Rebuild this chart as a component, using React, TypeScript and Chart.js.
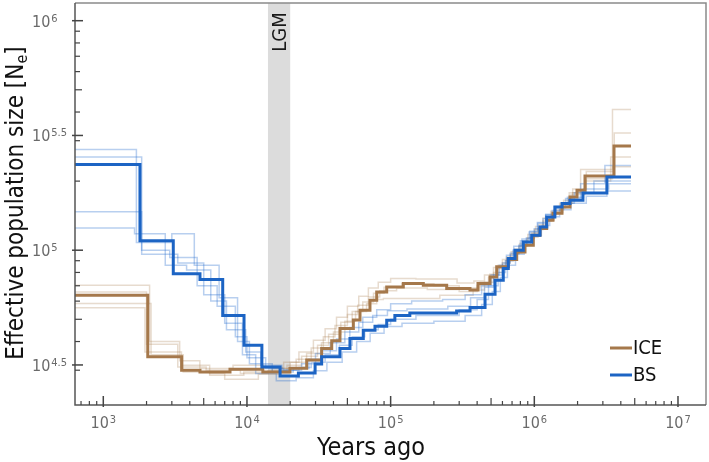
import React, { useEffect, useRef } from 'react';
import { Chart, registerables } from 'chart.js';

Chart.register(...registerables);

// ---- axis limits / annotation ----
const X_MIN = 635.5;
const X_MAX = 1.5667e7;
const Y_MIN = 21160;
const Y_MAX = 1.19436e6;
const LGM_START = 14000;
const LGM_END = 20000;

const xMajorTicks = [1e3, 1e4, 1e5, 1e6, 1e7];
const xTickExponents = ['3', '4', '5', '6', '7'];
const yMajorTicks = [31622.8, 1e5, 316227.8, 1e6];
const yTickExponents = ['4.5', '5', '5.5', '6'];

const X_TITLE = 'Years ago';
const Y_TITLE = 'Effective population size [N';
const Y_TITLE_SUB = 'e';
const Y_TITLE_END = ']';
const LGM_LABEL = 'LGM';
const SERIES_NAMES = ['ICE', 'BS'];

// ---- main curves: interval breakpoints (years) and Ne per interval ----
const bsTimes = [500, 1800, 3070, 4710, 6780, 9540, 12700, 17000, 22800, 29800, 33100, 44400, 52100, 64500, 77800, 93900, 107000, 136000, 288000, 357000, 454000, 533000, 608000, 659000, 734000, 838000, 959000, 1095000, 1220000, 1390000, 1560000, 1770000, 2180000, 3200000, 4710000];
const bsNe = [236000, 110000, 79000, 74500, 52000, 38500, 31000, 28300, 29200, 31900, 34300, 37300, 41200, 44800, 46600, 49500, 52000, 53300, 54400, 56300, 64300, 74000, 83200, 92000, 100000, 108700, 116200, 126300, 139700, 154400, 159800, 165100, 177700, 208600];

const iceTimes = [500, 2040, 3510, 4710, 7620, 12900, 19900, 26050, 33100, 38900, 44400, 55000, 61200, 71800, 80000, 93900, 122500, 168800, 245600, 356700, 405500, 491600, 547300, 659200, 754000, 861300, 984000, 1095000, 1220000, 1349000, 1558000, 1772000, 1982000, 2253000, 3586000, 4710000];
const iceNe = [63700, 34300, 30000, 29500, 30300, 29500, 30600, 33200, 37300, 40300, 45600, 49600, 54800, 60600, 65800, 69200, 71600, 70400, 68100, 67000, 71600, 76500, 84600, 91100, 98300, 105100, 116200, 124300, 135100, 144900, 154400, 170700, 182600, 210700, 284800];

// ---- BS replicates ----
const bsRep1Times = [500, 1700, 3000, 4300, 6400, 8600, 10400, 15000, 21000, 27000, 33000, 42000, 52000, 64000, 80000, 100000, 140000, 230000, 330000, 430000, 500000, 570000, 640000, 720000, 820000, 930000, 1050000, 1200000, 1400000, 1650000, 2100000, 3100000, 4710000];
const bsRep1Ne = [275000, 108000, 118000, 86000, 62000, 40000, 32000, 29500, 30500, 33500, 36500, 41000, 46000, 51000, 55000, 58500, 60000, 61000, 64000, 70000, 78000, 86000, 95000, 104000, 112000, 121000, 132000, 143000, 153000, 168000, 195000, 234000];

const bsRep2Times = [500, 1850, 3300, 5000, 7000, 9300, 11500, 16000, 22000, 29000, 36000, 46000, 58000, 72000, 90000, 120000, 200000, 330000, 430000, 510000, 580000, 650000, 740000, 850000, 980000, 1120000, 1280000, 1500000, 1800000, 2300000, 3200000, 4710000];
const bsRep2Ne = [255000, 96000, 88000, 64000, 48000, 35000, 29000, 27000, 27800, 29800, 32500, 36000, 40000, 43500, 46500, 48000, 49000, 52000, 58000, 66000, 76000, 86000, 96000, 106000, 116000, 128000, 140000, 150000, 160000, 172000, 181000];

const bsRep3Times = [500, 1850, 2900, 4500, 6200, 8300, 10000, 13500, 18000, 24000, 30000, 38000, 48000, 60000, 75000, 95000, 130000, 250000, 360000, 450000, 520000, 600000, 680000, 780000, 880000, 1000000, 1150000, 1330000, 1550000, 1900000, 2600000, 4710000];
const bsRep3Ne = [147000, 100000, 93000, 70000, 57000, 42000, 34000, 30500, 30000, 32000, 35500, 39500, 44000, 48500, 52000, 54500, 55500, 57000, 62000, 69000, 78000, 88000, 97000, 105000, 113000, 124000, 137000, 149000, 160000, 178000, 200000];

const bsRep4Times = [500, 1650, 2700, 3800, 5600, 7200, 9800, 12500, 17500, 23000, 28000, 35000, 44000, 54000, 66000, 82000, 100000, 150000, 300000, 400000, 480000, 560000, 630000, 710000, 800000, 920000, 1060000, 1200000, 1420000, 1700000, 2200000, 3300000, 4710000];
const bsRep4Ne = [125000, 118000, 86000, 82000, 60000, 45000, 36000, 31500, 30000, 30800, 32500, 35000, 38500, 42000, 45000, 47500, 50000, 52000, 55000, 61000, 70000, 80000, 90000, 100000, 110000, 120000, 131000, 143000, 155000, 170000, 185000, 195000];

// ---- ICE replicates ----
const iceRep1Times = [500, 2100, 3400, 4700, 8000, 13000, 18000, 23000, 29000, 35000, 42000, 50000, 60000, 70000, 82000, 100000, 150000, 290000, 380000, 450000, 520000, 600000, 690000, 790000, 900000, 1020000, 1150000, 1300000, 1500000, 1750000, 2100000, 3500000, 4710000];
const iceRep1Ne = [70400, 40000, 33000, 30500, 31500, 30800, 32500, 36000, 40500, 45500, 51000, 57000, 63000, 68500, 72500, 75300, 75000, 72000, 73500, 78000, 84000, 91000, 98500, 107000, 117000, 127000, 138000, 148000, 160000, 178000, 225000, 410000];

const iceRep2Times = [500, 2000, 3300, 5200, 9000, 14000, 19000, 24000, 31000, 37000, 45000, 54000, 64000, 76000, 90000, 120000, 200000, 300000, 420000, 490000, 560000, 640000, 730000, 840000, 960000, 1080000, 1220000, 1380000, 1600000, 1850000, 2300000, 3600000, 4710000];
const iceRep2Ne = [65800, 38900, 31000, 30000, 29000, 29800, 31500, 34500, 38500, 43000, 48500, 54000, 59500, 65000, 69000, 71500, 70000, 68500, 72500, 78500, 86000, 93500, 101000, 109000, 119000, 129000, 140000, 150000, 165000, 185000, 220000, 324000];

const iceRep3Times = [500, 2150, 3600, 5500, 9500, 15000, 20000, 26000, 33000, 40000, 48000, 57000, 68000, 80000, 89000, 220000, 375000, 450000, 520000, 600000, 680000, 780000, 890000, 1000000, 1150000, 1320000, 1520000, 1800000, 2250000, 3400000, 4710000];
const iceRep3Ne = [58600, 35000, 29500, 28500, 29500, 30500, 32500, 35500, 39500, 44000, 49000, 54000, 58500, 61000, 61600, 63700, 67000, 72500, 80000, 88000, 96000, 104000, 113000, 123000, 134000, 145000, 158000, 175000, 200000, 255000];

const iceRep4Times = [500, 1950, 3500, 5500, 7000, 12000, 17000, 22000, 28000, 34000, 41000, 50000, 59000, 70000, 84000, 110000, 180000, 300000, 400000, 480000, 550000, 630000, 720000, 820000, 940000, 1060000, 1200000, 1370000, 1580000, 1850000, 2300000, 3500000, 4710000];
const iceRep4Ne = [56200, 36000, 31500, 29000, 27400, 28800, 30500, 33500, 37500, 42000, 47000, 52500, 57500, 62500, 66500, 68500, 67500, 66000, 70000, 76000, 83000, 90000, 97000, 105000, 114000, 124000, 135000, 146000, 160000, 178000, 205000, 231000];

// ---- colours ----
const ICE_COLOR = '#a5784b';
const BS_COLOR = '#1c64c4';
const ICE_LIGHT = 'rgba(170,125,80,0.28)';
const BS_LIGHT = 'rgba(40,110,205,0.33)';

const FONT = '"DejaVu Sans Condensed", "DejaVu Sans", sans-serif';

function steps(times: number[], ne: number[]) {
  const pts = ne.map((v, i) => ({ x: times[i], y: v }));
  pts.push({ x: times[times.length - 1], y: ne[ne.length - 1] });
  return pts;
}

function ds(times: number[], ne: number[], color: string, width: number, order: number) {
  return {
    data: steps(times, ne),
    borderColor: color,
    backgroundColor: color,
    borderWidth: width,
    stepped: 'before' as const,
    pointRadius: 0,
    fill: false,
    order,
  };
}

const decorations = {
  id: 'decorations',
  beforeDatasetsDraw(chart: any) {
    const { ctx, chartArea } = chart;
    const xs = chart.scales.x;
    const x0 = xs.getPixelForValue(LGM_START);
    const x1 = xs.getPixelForValue(LGM_END);
    ctx.save();
    ctx.fillStyle = '#dcdcdc';
    ctx.fillRect(x0, chartArea.top, x1 - x0, chartArea.bottom - chartArea.top);
    ctx.restore();
  },
  afterDatasetsDraw(chart: any) {
    const { ctx, chartArea } = chart;
    const xs = chart.scales.x;
    const ys = chart.scales.y;
    const { left, right, top, bottom } = chartArea;
    ctx.save();

    // LGM label
    const xl = (xs.getPixelForValue(LGM_START) + xs.getPixelForValue(LGM_END)) / 2;
    ctx.save();
    ctx.translate(xl + 7, 32);
    ctx.rotate(-Math.PI / 2);
    ctx.fillStyle = '#1a1a1a';
    ctx.font = `20px ${FONT}`;
    ctx.textAlign = 'center';
    ctx.textBaseline = 'alphabetic';
    ctx.fillText(LGM_LABEL, 0, 0);
    ctx.restore();

    // frame
    ctx.strokeStyle = '#8a8a8a';
    ctx.lineWidth = 1.5;
    ctx.beginPath();
    ctx.moveTo(left, top);
    ctx.lineTo(right, top);
    ctx.lineTo(right, bottom);
    ctx.stroke();
    ctx.strokeStyle = '#555';
    ctx.lineWidth = 1.5;
    ctx.beginPath();
    ctx.moveTo(left, top);
    ctx.lineTo(left, bottom);
    ctx.lineTo(right, bottom);
    ctx.stroke();

    // ticks
    ctx.lineWidth = 1.2;
    ctx.strokeStyle = '#444';
    for (let d = 2; d <= 7; d++) {
      for (let m = 2; m <= 9; m++) {
        const v = m * Math.pow(10, d);
        if (v <= X_MIN || v >= X_MAX) continue;
        const px = xs.getPixelForValue(v);
        const len = m === 5 ? 7 : 4;
        ctx.beginPath();
        ctx.moveTo(px, bottom);
        ctx.lineTo(px, bottom - len);
        ctx.stroke();
      }
    }
    for (let d = 4; d <= 6; d++) {
      for (let m = 2; m <= 9; m++) {
        const v = m * Math.pow(10, d);
        if (v <= Y_MIN || v >= Y_MAX) continue;
        const py = ys.getPixelForValue(v);
        const len = m === 5 ? 7 : 5;
        ctx.beginPath();
        ctx.moveTo(left, py);
        ctx.lineTo(left + len, py);
        ctx.stroke();
      }
    }
    ctx.lineWidth = 1.5;
    xMajorTicks.forEach((v) => {
      const px = xs.getPixelForValue(v);
      ctx.beginPath();
      ctx.moveTo(px, bottom + 2);
      ctx.lineTo(px, bottom - 9);
      ctx.stroke();
    });
    yMajorTicks.forEach((v) => {
      const py = ys.getPixelForValue(v);
      ctx.beginPath();
      ctx.moveTo(left - 3, py);
      ctx.lineTo(left + 8, py);
      ctx.stroke();
    });

    // tick labels
    ctx.fillStyle = '#6a6a6a';
    ctx.textAlign = 'left';
    ctx.textBaseline = 'alphabetic';
    xMajorTicks.forEach((v, i) => {
      const px = xs.getPixelForValue(v);
      ctx.font = `16px ${FONT}`;
      const w1 = ctx.measureText('10').width;
      ctx.font = `11px ${FONT}`;
      const w2 = ctx.measureText(xTickExponents[i]).width;
      const start = px - (w1 + w2 + 1) / 2;
      ctx.font = `16px ${FONT}`;
      ctx.fillText('10', start, 428);
      ctx.font = `11px ${FONT}`;
      ctx.fillText(xTickExponents[i], start + w1 + 1, 423);
    });
    yMajorTicks.forEach((v, i) => {
      const py = ys.getPixelForValue(v);
      ctx.font = `16px ${FONT}`;
      const w1 = ctx.measureText('10').width;
      ctx.fillText('10', 32, py + 6);
      ctx.font = `11px ${FONT}`;
      ctx.fillText(yTickExponents[i], 32 + w1 + 1, py + 1);
    });

    // axis titles
    ctx.fillStyle = '#111';
    ctx.font = `25px ${FONT}`;
    ctx.textAlign = 'center';
    ctx.fillText(X_TITLE, 371, 455);

    ctx.save();
    ctx.font = `24px ${FONT}`;
    const wa = ctx.measureText(Y_TITLE).width;
    const wc = ctx.measureText(Y_TITLE_END).width;
    ctx.font = `16px ${FONT}`;
    const wb = ctx.measureText(Y_TITLE_SUB).width;
    const total = wa + wb + wc;
    ctx.translate(23, 203);
    ctx.rotate(-Math.PI / 2);
    ctx.textAlign = 'left';
    ctx.font = `24px ${FONT}`;
    ctx.fillText(Y_TITLE, -total / 2, 0);
    ctx.font = `16px ${FONT}`;
    ctx.fillText(Y_TITLE_SUB, -total / 2 + wa, 4);
    ctx.font = `24px ${FONT}`;
    ctx.fillText(Y_TITLE_END, -total / 2 + wa + wb, 0);
    ctx.restore();

    // legend
    const legendRows = [
      { name: SERIES_NAMES[0], color: ICE_COLOR, y: 348 },
      { name: SERIES_NAMES[1], color: BS_COLOR, y: 375 },
    ];
    ctx.textAlign = 'left';
    ctx.textBaseline = 'middle';
    legendRows.forEach((r) => {
      ctx.strokeStyle = r.color;
      ctx.lineWidth = 3;
      ctx.beginPath();
      ctx.moveTo(610, r.y);
      ctx.lineTo(632, r.y);
      ctx.stroke();
      ctx.fillStyle = '#111';
      ctx.font = `20px ${FONT}`;
      ctx.fillText(r.name, 633, r.y + 1);
    });

    ctx.restore();
  },
};

export default function App() {
  const ref = useRef<HTMLCanvasElement | null>(null);
  useEffect(() => {
    if (!ref.current) return;
    const chart = new Chart(ref.current, {
      type: 'line',
      data: {
        datasets: [
          ds(bsTimes, bsNe, BS_COLOR, 3, 0),
          ds(iceTimes, iceNe, ICE_COLOR, 3, 1),
          ds(bsRep1Times, bsRep1Ne, BS_LIGHT, 1.5, 2),
          ds(bsRep2Times, bsRep2Ne, BS_LIGHT, 1.5, 2),
          ds(bsRep3Times, bsRep3Ne, BS_LIGHT, 1.5, 2),
          ds(bsRep4Times, bsRep4Ne, BS_LIGHT, 1.5, 2),
          ds(iceRep1Times, iceRep1Ne, ICE_LIGHT, 1.5, 3),
          ds(iceRep2Times, iceRep2Ne, ICE_LIGHT, 1.5, 3),
          ds(iceRep3Times, iceRep3Ne, ICE_LIGHT, 1.5, 3),
          ds(iceRep4Times, iceRep4Ne, ICE_LIGHT, 1.5, 3),
        ] as any,
      },
      options: {
        animation: false,
        responsive: false,
        devicePixelRatio: 1,
        layout: { padding: { left: 75, right: 3, top: 3, bottom: 57 } },
        plugins: { legend: { display: false }, tooltip: { enabled: false } },
        scales: {
          x: { type: 'logarithmic', min: X_MIN, max: X_MAX, display: false },
          y: { type: 'logarithmic', min: Y_MIN, max: Y_MAX, display: false },
        },
      },
      plugins: [decorations],
    });
    return () => chart.destroy();
  }, []);
  return (
    <div style={{ position: 'absolute', left: 0, top: 0, width: 709, height: 462, background: '#fff' }}>
      <canvas ref={ref} width={709} height={462} />
    </div>
  );
}
